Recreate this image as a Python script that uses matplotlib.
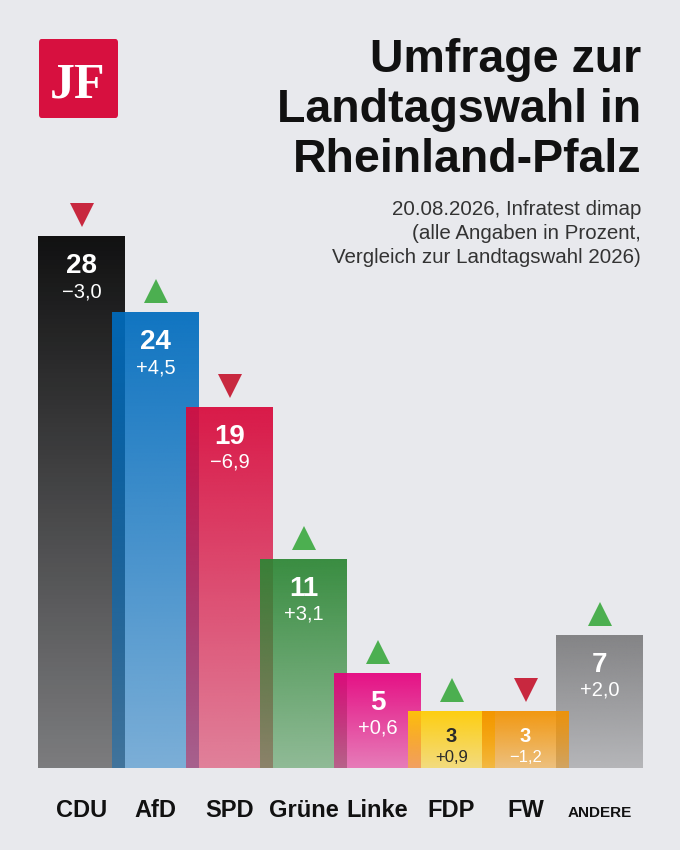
import matplotlib
matplotlib.use("Agg")
import matplotlib.pyplot as plt
import matplotlib.transforms as mtransforms
from matplotlib.colors import to_rgb
from matplotlib.patches import FancyBboxPatch
import numpy as np

plt.rcParams['font.family'] = ['Liberation Sans', 'DejaVu Sans']

# -----------------------------------------------------------
# data
# -----------------------------------------------------------
parties = ['CDU', 'AfD', 'SPD', 'Grüne', 'Linke', 'FDP', 'FW', 'ANDERE']
values = [28, 24, 19, 11, 5, 3, 3, 7]
changes = [-3.0, 4.5, -6.9, 3.1, 0.6, 0.9, -1.2, 2.0]
colors = ['#000000', '#006cbe', '#d80a3c', '#2c8634', '#e5007d',
          '#ffcc00', '#f39200', '#7c7c7e']

title_lines = ['Umfrage zur', 'Landtagswahl in', 'Rheinland-Pfalz']
subtitle_lines = ['20.08.2026, Infratest dimap',
                  '(alle Angaben in Prozent,',
                  'Vergleich zur Landtagswahl 2026)']

bg = '#e8e9ed'
up_col = '#4caf50'
down_col = '#c8283f'

W, H = 680, 850
fig = plt.figure(figsize=(W / 100, H / 100), dpi=100, facecolor=bg)

# bar geometry in pixels: step 74, width 87, baseline 768, 19 px per point
step, bw = 74, 87
w = bw / step
base_px, top_px, px_per = 768, 180, 19
n = len(parties)
ax_w = (n - 1 + w) * step
ax = fig.add_axes([38 / W, (H - base_px) / H, ax_w / W, (base_px - top_px) / H])
ax.set_facecolor('none')
for s in ax.spines.values():
    s.set_visible(False)
ax.set_xticks([])
ax.set_yticks([])

# FW sits on top of ANDERE in the original
layer = {'FW': 9, 'ANDERE': 8}

for i, (p, v, c) in enumerate(zip(parties, values, colors)):
    rgb = to_rgb(c)
    grad = np.zeros((256, 1, 4))
    grad[:, 0, :3] = rgb
    grad[:, 0, 3] = np.linspace(0.93, 0.47, 256)
    ax.imshow(grad, extent=[i - w / 2, i + w / 2, 0, v], origin='upper',
              aspect='auto', interpolation='bilinear',
              zorder=layer.get(p, i + 1))

ax.set_xlim(-w / 2, n - 1 + w / 2)
ax.set_ylim(0, (base_px - top_px) / px_per)

# arrows above bars
tri_tr = mtransforms.offset_copy(ax.transData, fig=fig, y=21, units='dots')
for i, (v, d) in enumerate(zip(values, changes)):
    ax.plot(i, v, marker='^' if d > 0 else 'v', markersize=17.5,
            color=up_col if d > 0 else down_col, markeredgewidth=0,
            transform=tri_tr, zorder=20, clip_on=False)

# value and change labels
def fmt(d):
    s = f'{abs(d):.1f}'.replace('.', ',')
    return ('+' if d > 0 else '\u2212') + s

for i, (p, v, d) in enumerate(zip(parties, values, changes)):
    small = v <= 3
    tc = '#2a2a2a' if p == 'FDP' else 'white'
    ax.annotate(str(v), (i, v), xytext=(0, -31 if small else -37),
                textcoords='offset pixels', ha='center', va='baseline',
                fontsize=14.5 if small else 20, fontweight='bold',
                color=tc, zorder=30)
    ax.annotate(fmt(d), (i, v), xytext=(0, -51 if small else -61),
                textcoords='offset pixels', ha='center', va='baseline',
                fontsize=12 if small else 14.5, color=tc, zorder=30)

# party names
for i, p in enumerate(parties):
    ax.annotate(p, (i, 0), xytext=(0, -49), textcoords='offset pixels',
                ha='center', va='baseline', fontweight='bold',
                fontsize=11 if p == 'ANDERE' else 17, color='#111111',
                annotation_clip=False)

# title and subtitle
for k, line in enumerate(title_lines):
    fig.text(641 / W, 1 - (72 + 50 * k) / H, line, ha='right', va='baseline',
             fontsize=33.5, fontweight='bold', color='#111111')
for k, line in enumerate(subtitle_lines):
    fig.text(641 / W, 1 - (215 + 24 * k) / H, line, ha='right', va='baseline',
             fontsize=14.8, color='#333333')

# logo
logo = FancyBboxPatch((39 / W, 1 - 118 / H), 79 / W, 79 / H,
                      boxstyle='round,pad=0,rounding_size=0.004',
                      transform=fig.transFigure, facecolor='#d7103f',
                      edgecolor='none')
fig.patches.append(logo)
fig.text(78 / W, 1 - 97 / H, 'JF', ha='center', va='baseline',
         fontsize=36, fontweight='bold', color='white',
         family='Liberation Serif')

fig.savefig('out.png', dpi=100, facecolor=bg)
